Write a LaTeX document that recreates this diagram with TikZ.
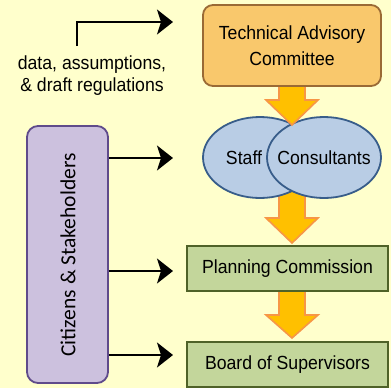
\documentclass[tikz,border=0pt]{standalone}
\usepackage{fontspec}
\setmainfont{Liberation Sans}[FakeStretch=0.93]
\newfontfamily\citfont{Carlito}
\usetikzlibrary{arrows.meta}
\definecolor{bgc}{HTML}{FFFFCC}
\definecolor{tacfill}{HTML}{F9C86C}
\definecolor{tacdraw}{HTML}{9A6A35}
\definecolor{elfill}{HTML}{B9CDE5}
\definecolor{eldraw}{HTML}{385D8A}
\definecolor{grfill}{HTML}{C3D69B}
\definecolor{grdraw}{HTML}{4F6228}
\definecolor{citfill}{HTML}{CCC1DE}
\definecolor{citdraw}{HTML}{5F4B8B}
\definecolor{arfill}{HTML}{FFC000}
\definecolor{ardraw}{HTML}{F79646}
\tikzset{
  txt/.style={font=\fontsize{19}{26}\selectfont, text=black},
  tacbox/.style={draw=tacdraw, fill=tacfill, line width=1.8pt, rounded corners=10pt, minimum width=178pt, minimum height=81pt, inner sep=0pt, txt, align=center},
  greenbox/.style={draw=grdraw, fill=grfill, line width=1.8pt, minimum width=201pt, minimum height=45pt, inner sep=0pt, txt},
  ell/.style={draw=eldraw, fill=elfill, line width=1.8pt, ellipse, minimum width=114pt, minimum height=81pt, inner sep=0pt},
  citbox/.style={draw=citdraw, fill=citfill, line width=1.8pt, rounded corners=11pt, minimum width=81pt, minimum height=257pt, inner sep=0pt},
  blackarrow/.style={line width=2pt, -{Stealth[length=16pt,width=25pt,inset=4pt]}},
  bigarrow/.style={fill=arfill, draw=ardraw, line width=1.6pt, line join=miter},
}
\usetikzlibrary{shapes.geometric}
\newcommand{\fatarrow}[4]{% cx, top, headstart, tip
  \draw[bigarrow] (#1-13,#2) -- (#1-13,#3) -- (#1-26,#3) -- (#1,#4) -- (#1+26,#3) -- (#1+13,#3) -- (#1+13,#2) -- cycle;}
\begin{document}
\begin{tikzpicture}[x=1pt,y=-1pt]
\useasboundingbox (0,0) rectangle (391,388);
\fill[bgc] (0,0) rectangle (391,388);
% fat arrows behind
\fatarrow{292}{185}{218}{243}
\fatarrow{292}{285}{315}{338}
% ellipses
\node[ell] (staff) at (260,157.5) {};
\node[ell] (cons) at (324,157.5) {};
\node[txt] (stafftxt) at (244,158) {Staff};
\node[txt] (constxt) at (324,158) {Consultants};
\fatarrow{292}{80}{100}{125}
% boxes
\node[tacbox] (tac) at (292,45.5) {Technical Advisory\\Committee};
\node[greenbox] (plan) at (287.5,268.5) {Planning Commission};
\node[greenbox] (board) at (287.5,364.5) {Board of Supervisors};
\node[citbox] (cit) at (67.5,254.5) {};
\node[rotate=90, font=\citfont\fontsize{21.5}{24}\selectfont] (cittxt) at (68,255) {Citizens \& Stakeholders};
% data text
\node[txt, align=center, font=\fontsize{19}{22}\selectfont, inner sep=0pt] (data) at (92,76) {data, assumptions,\\\& draft regulations};
% black arrows
\coordinate (dstart) at (77,46);
\coordinate (dend) at (173,22);
\draw[blackarrow] (dstart) |- (dend);
\coordinate (a1) at (173,158);
\coordinate (a2) at (173,271);
\coordinate (a3) at (173,355);
\draw[blackarrow] (cit.east |- a1) -- (a1);
\draw[blackarrow] (cit.east |- a2) -- (a2);
\draw[blackarrow] (cit.east |- a3) -- (a3);
\end{tikzpicture}
\end{document}
